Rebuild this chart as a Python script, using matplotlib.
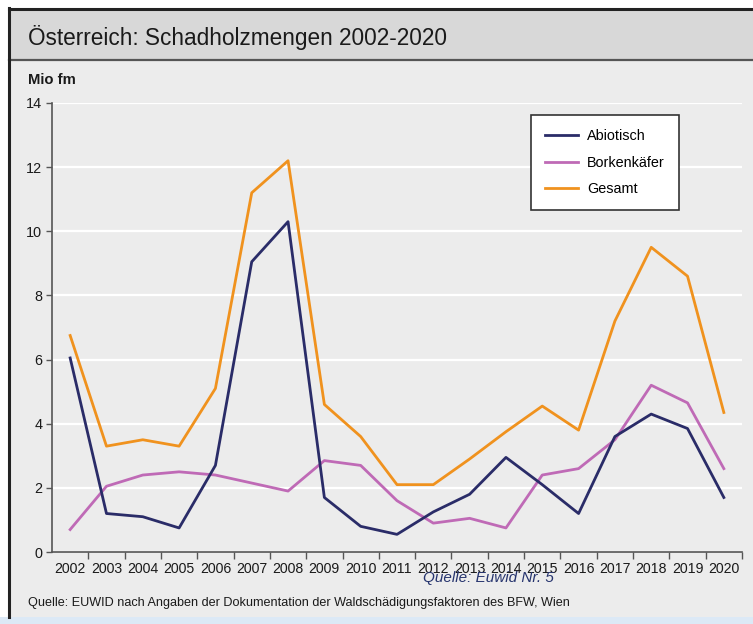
import matplotlib.pyplot as plt
from matplotlib import font_manager
from matplotlib.patches import Rectangle
from matplotlib.lines import Line2D
from matplotlib.ticker import FixedLocator, NullFormatter

# Schadholzmengen in Mio fm
years = list(range(2002, 2021))
abiotisch = [6.05, 1.2, 1.1, 0.75, 2.7, 9.05, 10.3, 1.7, 0.8, 0.55,
             1.25, 1.8, 2.95, 2.1, 1.2, 3.6, 4.3, 3.85, 1.7]
borkenkaefer = [0.7, 2.05, 2.4, 2.5, 2.4, 2.15, 1.9, 2.85, 2.7, 1.6,
                0.9, 1.05, 0.75, 2.4, 2.6, 3.5, 5.2, 4.65, 2.6]
gesamt = [6.75, 3.3, 3.5, 3.3, 5.1, 11.2, 12.2, 4.6, 3.6, 2.1,
          2.1, 2.9, 3.75, 4.55, 3.8, 7.2, 9.5, 8.6, 4.35]

W, H = 753, 624

# condensed face if one is installed, otherwise plain Liberation Sans a bit smaller
installed = {f.name for f in font_manager.fontManager.ttflist}
if 'Liberation Sans Narrow' in installed:
    narrow, scale = ['Liberation Sans Narrow', 'DejaVu Sans'], 1.0
else:
    narrow, scale = ['Liberation Sans', 'DejaVu Sans'], 0.86

fig = plt.figure(figsize=(W / 100, H / 100), dpi=100)
fig.patch.set_facecolor('white')

def px(x, y, w, h):
    # pixel box (from top-left) -> figure fraction
    return (x / W, 1 - (y + h) / H, w / W, h / H)

def box(x, y, w, h, color):
    l, b, fw, fh = px(x, y, w, h)
    fig.add_artist(Rectangle((l, b), fw, fh, transform=fig.transFigure,
                             facecolor=color, edgecolor='none', zorder=0))

def hline(y, x0, x1, color, lw):
    fig.add_artist(Line2D([x0 / W, x1 / W], [1 - y / H, 1 - y / H],
                          color=color, lw=lw, transform=fig.transFigure))

# panel background, title bar and frame
box(9, 8, W - 9, H - 8, '#ececec')
box(9, 9, W - 9, 51, '#d8d8d8')
box(0, 617, W, 7, '#dce9f6')
hline(8.5, 9, W, '#222222', 2.2)
hline(60, 9, W, '#555555', 1.6)
fig.add_artist(Line2D([9 / W, 9 / W], [1 - 8 / H, 1 - 617 / H], color='#222222',
                      lw=2.2, transform=fig.transFigure))

fig.text(28 / W, 1 - 37 / H, 'Österreich: Schadholzmengen 2002-2020',
         family=narrow, fontsize=19 * scale, color='#1a1a1a', va='center', ha='left')
fig.text(28 / W, 1 - 80 / H, 'Mio fm', family=narrow, fontsize=12.5 * scale,
         fontweight='bold', color='#1a1a1a', va='center', ha='left')
fig.text(28 / W, 1 - 603 / H,
         'Quelle: EUWID nach Angaben der Dokumentation der Waldschädigungsfaktoren des BFW, Wien',
         family=narrow, fontsize=10.6 * scale, color='#1a1a1a', va='center', ha='left')

ax = fig.add_axes(px(52, 103, 690, 449))
ax.set_facecolor('#ececec')
ax.plot(years, gesamt, color='#f0921e', lw=2.0, label='Gesamt', zorder=3)
ax.plot(years, borkenkaefer, color='#bf6ab6', lw=2.0, label='Borkenkäfer', zorder=3)
ax.plot(years, abiotisch, color='#2a2c68', lw=2.0, label='Abiotisch', zorder=4)

ax.set_xlim(2001.5, 2020.5)
ax.set_ylim(0, 14)
ax.set_yticks(range(0, 15, 2))
ax.yaxis.grid(True, color='white', lw=1.6)
ax.set_axisbelow(True)
ax.xaxis.set_major_locator(FixedLocator(years))
ax.set_xticklabels([str(y) for y in years])
ax.xaxis.set_minor_locator(FixedLocator([y + 0.5 for y in years]))
ax.xaxis.set_minor_formatter(NullFormatter())
ax.tick_params(axis='x', which='major', length=0, pad=7, labelsize=11.8 * scale,
               labelcolor='#1a1a1a')
ax.tick_params(axis='x', which='minor', length=5, width=1, color='#555555')
ax.tick_params(axis='y', length=4, width=1, color='#555555', labelsize=12 * scale,
               labelcolor='#1a1a1a', pad=3)
for lbl in ax.get_xticklabels() + ax.get_yticklabels():
    lbl.set_family(narrow)
for s in ('top', 'right'):
    ax.spines[s].set_visible(False)
for s in ('left', 'bottom'):
    ax.spines[s].set_color('#555555')
    ax.spines[s].set_linewidth(1.2)

handles, labels = ax.get_legend_handles_labels()
order = [2, 1, 0]
leg = ax.legend([handles[i] for i in order], [labels[i] for i in order],
                loc='upper left', bbox_to_anchor=(479 / 690, 1 - 12 / 449),
                frameon=True, fancybox=False, handlelength=2.3,
                borderpad=1.0, labelspacing=0.85, handletextpad=0.6,
                borderaxespad=0, prop={'family': narrow, 'size': 12 * scale})
leg.get_frame().set_edgecolor('#333333')
leg.get_frame().set_linewidth(1.2)
leg.get_frame().set_facecolor('white')
leg.get_frame().set_alpha(1)

fig.text(423 / W, 1 - 578 / H, 'Quelle: Euwid Nr. 5', fontsize=11,
         style='italic', family=['Liberation Sans', 'DejaVu Sans'],
         color='#26346e', va='center', ha='left')

fig.savefig('out.png', dpi=100)
